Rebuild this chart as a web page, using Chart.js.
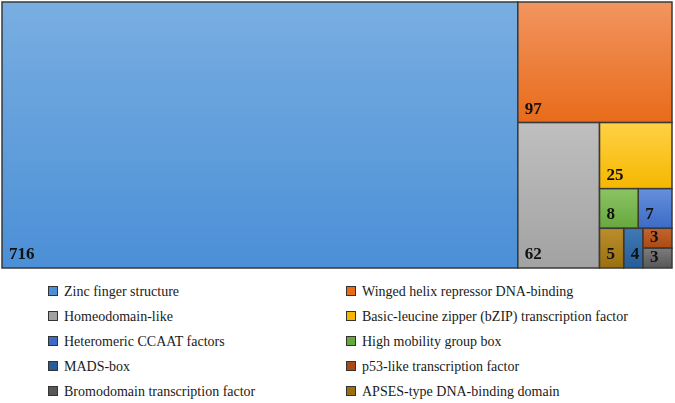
<!DOCTYPE html>
<html>
<head>
<meta charset="utf-8">
<script src="https://cdn.jsdelivr.net/npm/chart.js@4.4.1/dist/chart.umd.min.js"></script>
<style>
  body { margin: 0; background: #fff; }
  #wrap { position: relative; width: 675px; height: 403px; }
  #box { position: absolute; left: 0; top: 0; width: 675px; height: 272px; }
  .leg { position: absolute; height: 16px; line-height: 16px; font-family: 'Liberation Serif', 'Times New Roman', serif; font-size: 14px; color: #1a1a1a; white-space: nowrap; }
  .leg span { display: inline-block; width: 8px; height: 8px; border: 1px solid #333; margin-right: 6px; vertical-align: -0px; }
</style>
</head>
<body>
<div id="wrap">
  <div id="box"><canvas id="grafico"></canvas></div>
  <div id="leyenda"></div>
</div>
<script>
// categories, in legend order (left, right, left, right ...)
const labels = ['Zinc finger structure', 'Winged helix repressor DNA-binding',
    'Homeodomain-like', 'Basic-leucine zipper (bZIP) transcription factor',
    'Heteromeric CCAAT factors', 'High mobility group box',
    'MADS-box', 'p53-like transcription factor',
    'Bromodomain transcription factor', 'APSES-type DNA-binding domain'];
const counts = [716, 97, 62, 25, 7, 8, 4, 3, 3, 5];
const topColors = ['#79aee1', '#f29560', '#bfbfbf', '#ffd145', '#6690dc', '#8cc363', '#3f7ab6', '#c4652f', '#7c7c7c', '#bb8e2c'];
const baseColors = ['#4b8fd6', '#e86b1a', '#a2a2a2', '#f5b700', '#3c6bc6', '#67a83d', '#255e98', '#a94914', '#575757', '#9a700f'];
// how many cells go in each strip of the treemap (largest first)
const strips = [1, 1, 1, 1, 2, 1, 1, 1, 1];

const order = counts.map((c, i) => i).sort((a, b) => counts[b] - counts[a]);
const total = counts.reduce((s, c) => s + c, 0);

function layout(W, H) {
    const k = W * H / total;
    let x = 0, y = 0, w = W, h = H, pos = 0;
    const rects = [];
    strips.forEach(n => {
        const items = order.slice(pos, pos + n);
        pos += n;
        const area = items.reduce((s, i) => s + counts[i] * k, 0);
        if (w >= h) {
            const cw = area / h;
            let yy = y;
            items.forEach(i => {
                const ih = counts[i] * k / cw;
                rects[i] = {x0: x, x1: x + cw, y0: yy, y1: yy + ih};
                yy += ih;
            });
            x += cw; w -= cw;
        } else {
            const rh = area / w;
            let xx = x;
            items.forEach(i => {
                const iw = counts[i] * k / rh;
                rects[i] = {x0: xx, x1: xx + iw, y0: y, y1: y + rh};
                xx += iw;
            });
            y += rh; h -= rh;
        }
    });
    return rects;
}

const treemapPlugin = {
    id: 'treemap',
    afterDatasetsDraw(chart) {
        const ctx = chart.ctx;
        const ca = chart.chartArea;
        const A = (ca.right - ca.left) / (ca.bottom - ca.top);
        const xs = chart.scales.x, ys = chart.scales.y;
        const rects = layout(A, 1);
        ctx.save();
        rects.forEach((r, i) => {
            const l = xs.getPixelForValue(r.x0 / A), rr = xs.getPixelForValue(r.x1 / A);
            const t = ys.getPixelForValue(r.y0), b = ys.getPixelForValue(r.y1);
            const g = ctx.createLinearGradient(0, t, 0, b);
            g.addColorStop(0, topColors[i]);
            g.addColorStop(1, baseColors[i]);
            ctx.fillStyle = g;
            ctx.fillRect(l, t, rr - l, b - t);
            ctx.lineWidth = 1.5;
            ctx.strokeStyle = '#3a3a3a';
            ctx.strokeRect(l, t, rr - l, b - t);
            ctx.fillStyle = '#111';
            ctx.font = 'bold 17px "Liberation Serif", "Times New Roman", serif';
            ctx.textBaseline = 'alphabetic';
            ctx.fillText(String(counts[i]), l + 7, Math.max(t + 14, b - 9));
        });
        ctx.restore();
    }
};

var chart = new Chart(document.getElementById('grafico').getContext('2d'), {
    type: 'scatter',
    data: {
        datasets: [{label: 'Transcription factor families', data: []}]
    },
    options: {
        responsive: true,
        maintainAspectRatio: false,
        animation: false,
        layout: {padding: {left: 2, top: 2, right: 3, bottom: 4}},
        scales: {
            x: {type: 'linear', min: 0, max: 1, display: false},
            y: {type: 'linear', min: 0, max: 1, reverse: true, display: false}
        },
        plugins: {legend: {display: false}, tooltip: {enabled: false}}
    },
    plugins: [treemapPlugin]
});

// legend in two columns under the chart
const leyenda = document.getElementById('leyenda');
labels.forEach((lab, i) => {
    const d = document.createElement('div');
    d.className = 'leg';
    d.style.left = (i % 2 === 0 ? 48 : 346) + 'px';
    d.style.top = (284 + 25 * Math.floor(i / 2)) + 'px';
    d.innerHTML = '<span style="background:' + baseColors[i] + '"></span>' + lab;
    leyenda.appendChild(d);
});
</script>
</body>
</html>
